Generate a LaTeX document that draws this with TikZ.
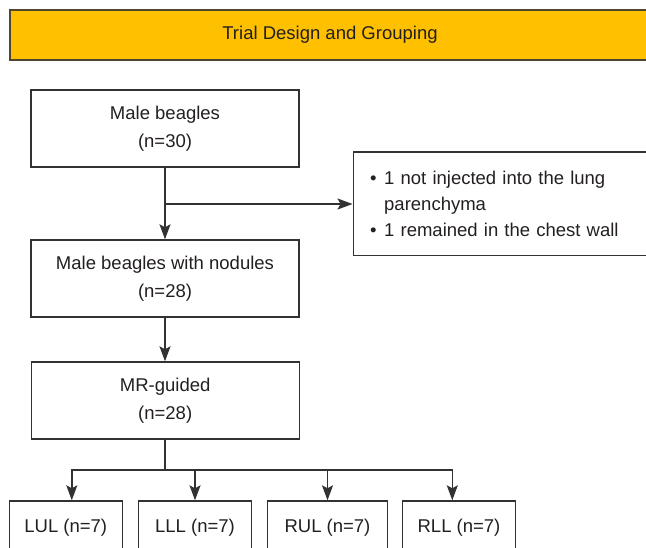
\documentclass[tikz,border=0pt]{standalone}
\usepackage{fontspec}
\setmainfont{Liberation Sans}
\usetikzlibrary{arrows.meta}

\definecolor{bargold}{RGB}{255,192,0}
\definecolor{barline}{RGB}{80,70,45}
\definecolor{boxline}{RGB}{50,50,50}
\definecolor{inktext}{RGB}{35,31,32}

\begin{document}
\begin{tikzpicture}[x=1pt, y=-1pt]

        % Page frame in pixels of the original, y runs downwards
        \useasboundingbox (0, 0) rectangle (646, 547);

        \tikzset{
            databox/.style={draw=boxline, line width=1.4pt, text=inktext,
                font=\fontsize{18.5}{27.5}\selectfont, align=center,
                minimum height=77pt, inner sep=0pt},
            groupbox/.style={databox, minimum height=54pt},
            flow/.style={draw=boxline, line width=1.4pt},
            flowtip/.style={flow, -{Stealth[length=15pt, width=11pt, inset=3pt]}}
        }

        % Title bar, it runs off the right edge of the page
        \node[draw=barline, fill=bargold, line width=2pt, inner sep=0pt,
            minimum width=700pt, minimum height=50pt,
            anchor=north west] (bar) at (9, 9) {};
        \node[text=inktext, font=\fontsize{18.5}{22}\selectfont]
            (title) at (330, 35) {Trial Design and Grouping};

        % Main column
        \node[databox, minimum width=268pt] (beagles) at (165, 128.5)
            {Male beagles\\(n=30)};
        \node[databox, minimum width=268pt] (nodules) at (165, 278.5)
            {Male beagles with nodules\\(n=28)};
        \node[databox, minimum width=268pt] (guided) at (165.2, 400.5)
            {MR-guided\\(n=28)};

        % Excluded animals, box is cut by the right edge
        \node[databox, align=left, text width=290pt, inner xsep=17pt,
            minimum height=103.5pt, font=\fontsize{18.5}{26}\selectfont,
            anchor=west] (excluded) at (352.5, 203.7)
            {\makebox[14pt][l]{\textbullet}1 not injected into the lung\\
             \hspace*{14pt}parenchyma\\
             \makebox[14pt][l]{\textbullet}1 remained in the chest wall};

        % Lobe groups, bottoms are cut by the lower edge
        \node[groupbox, minimum width=113pt] (lul) at (65.8, 528) {LUL (n=7)};
        \node[groupbox, minimum width=113.4pt] (lll) at (195, 528) {LLL (n=7)};
        \node[groupbox, minimum width=120.4pt] (rul) at (327.5, 528) {RUL (n=7)};
        \node[groupbox, minimum width=113.4pt] (rll) at (459, 528) {RLL (n=7)};

        \coordinate (split) at (165, 204);
        \coordinate (fork) at (165, 470);

        \draw[flowtip] (beagles) -- (nodules);
        \draw[flowtip] (split) -- (split -| excluded.west);
        \draw[flowtip] (nodules) -- (nodules.south |- guided.north);
        \draw[flow] (guided.south -| fork) -- (fork);
        % the outer arrows sit a little off the box centres
        \draw[flowtip] (fork) -| ([xshift=6pt]lul.north);
        \draw[flowtip] (fork) -| (lll.north);
        \draw[flowtip] (fork) -| (rul.north);
        \draw[flowtip] (fork) -| ([xshift=-6.7pt]rll.north);

\end{tikzpicture}
\end{document}
